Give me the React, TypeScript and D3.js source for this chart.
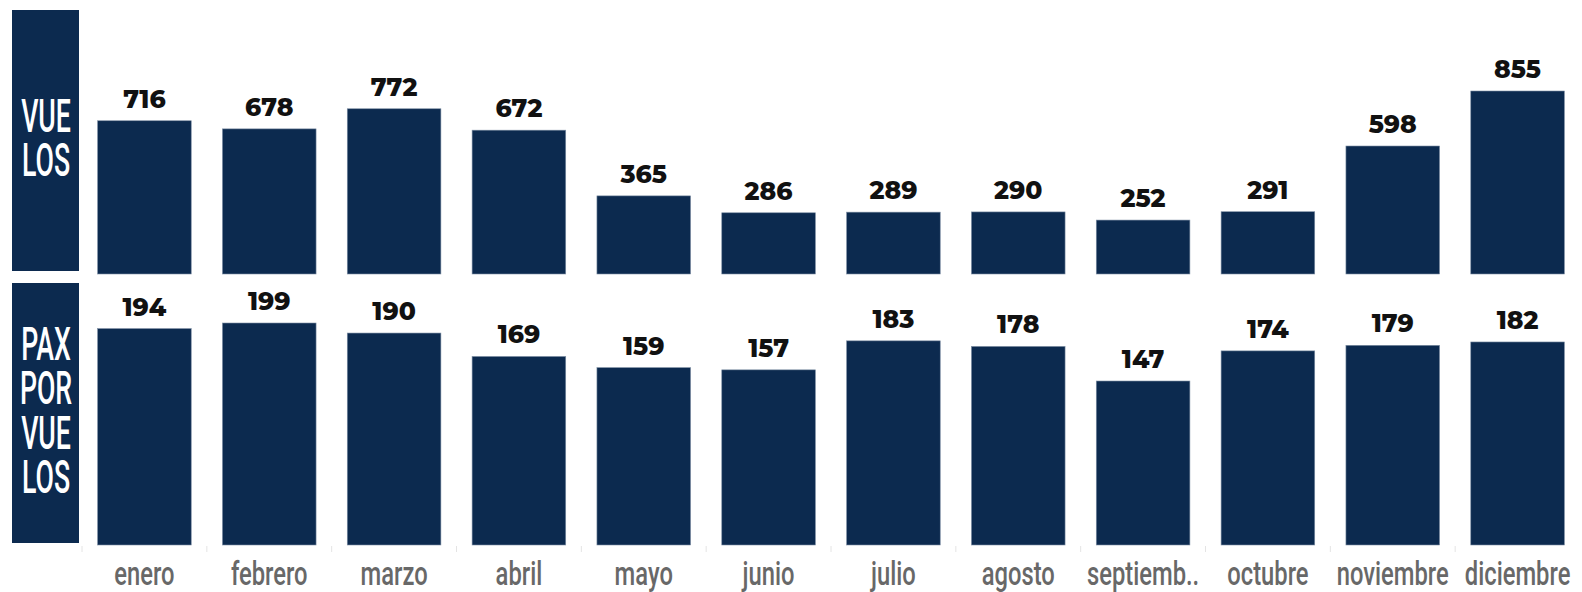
import React from "react";
import * as d3 from "d3";

const months = ["enero", "febrero", "marzo", "abril", "mayo", "junio", "julio", "agosto", "septiemb..", "octubre", "noviembre", "diciembre"];
const vuelos = [716, 678, 772, 672, 365, 286, 289, 290, 252, 291, 598, 855];
const paxPorVuelo = [194, 199, 190, 169, 159, 157, 183, 178, 147, 174, 179, 182];
const panelTitles = [["VUE", "LOS"], ["PAX", "POR", "VUE", "LOS"]];

const W = 1582;
const H = 592;
const BAR = "#0c2a4f";
const COND = "Roboto, 'Noto Sans', sans-serif";

export default function App() {
  const x = d3.scaleBand<string>().domain(months).range([82, 1580]).paddingInner(0.25).paddingOuter(0.125);
  const yTop = d3.scaleLinear().domain([0, 855]).range([274, 91]);
  const yBot = d3.scaleLinear().domain([0, 199]).range([545, 323]);
  const step = x.step();

  const panels = [
    { data: vuelos, y: yTop, box: [10, 271], lineGap: 44, first: 132 },
    { data: paxPorVuelo, y: yBot, box: [283, 543], lineGap: 44.3, first: 360 },
  ];

  return (
    <svg width={W} height={H} style={{ position: "absolute", left: 0, top: 0, background: "#fff" }}>
      {panels.map((p, pi) => (
        <g key={pi}>
          <rect x={12} y={p.box[0]} width={67} height={p.box[1] - p.box[0]} fill={BAR} />
          {panelTitles[pi].map((t, i) => (
            <text
              key={t + i}
              x={0}
              y={0}
              textAnchor="middle"
              fill="#fff"
              fontFamily={COND}
              fontWeight={500}
              fontSize={46}
              transform={`translate(46,${p.first + i * p.lineGap}) scale(0.58,1)`}
            >
              {t}
            </text>
          ))}
          {p.data.map((v, i) => {
            const bx = x(months[i])!;
            return (
              <g key={months[i]}>
                <rect x={bx} y={p.y(v)} width={x.bandwidth()} height={p.y(0) - p.y(v)} fill={BAR} stroke="#7d8ea3" strokeWidth={0.6} />
                <text
                  x={bx + x.bandwidth() / 2}
                  y={p.y(v) - 13}
                  textAnchor="middle"
                  fontFamily="Montserrat, 'Noto Sans', Lato, sans-serif"
                  fontWeight={800}
                  fontSize={25}
                  fill="#111"
                >
                  {v}
                </text>
              </g>
            );
          })}
        </g>
      ))}
      {months.map((m) => (
        <line key={"t" + m} x1={x(m)! - (step - x.bandwidth()) / 2} x2={x(m)! - (step - x.bandwidth()) / 2} y1={546} y2={552} stroke="#e4e4e4" strokeWidth={1} />
      ))}
      {months.map((m) => (
        <text
          key={"l" + m}
          x={0}
          y={0}
          textAnchor="middle"
          fill="#686868"
          fontFamily={COND}
          fontWeight={500}
          fontSize={33}
          transform={`translate(${x(m)! + x.bandwidth() / 2},585) scale(0.72,1)`}
        >
          {m}
        </text>
      ))}
    </svg>
  );
}
